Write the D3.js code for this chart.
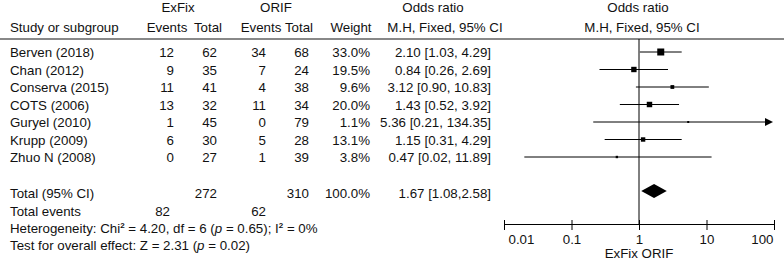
<!DOCTYPE html>
<html>
<head>
<meta charset="utf-8">
<script src="https://cdn.jsdelivr.net/npm/d3@7"></script>
<style>
  body { margin: 0; background: #fff; }
  svg { display: block; font-family: "Liberation Sans", Arial, sans-serif; font-size: 13.3px; }
</style>
</head>
<body>
<div id="chart"></div>
<script>
// study rows
var studies = ["Berven (2018)", "Chan (2012)", "Conserva (2015)", "COTS (2006)", "Guryel (2010)", "Krupp (2009)", "Zhuo N (2008)"];
var exEvents = [12, 9, 11, 13, 1, 6, 0];
var exTotal = [62, 35, 41, 32, 45, 30, 27];
var orEvents = [34, 7, 4, 11, 0, 5, 1];
var orTotal = [68, 24, 38, 34, 79, 28, 39];
var weights = [33.0, 19.5, 9.6, 20.0, 1.1, 13.1, 3.8];
var oddsRatio = [2.10, 0.84, 3.12, 1.43, 5.36, 1.15, 0.47];
var ciLow = [1.03, 0.26, 0.90, 0.52, 0.21, 0.31, 0.02];
var ciHigh = [4.29, 2.69, 10.83, 3.92, 134.35, 4.29, 11.89];

// pooled result
var pooled = {or: 1.67, lo: 1.08, hi: 2.58};
var totals = {exTotal: 272, orTotal: 310, weight: "100.0%", exEvents: 82, orEvents: 62};
var tickValues = [0.01, 0.1, 1, 10, 100];
var tickLabels = ["0.01", "0.1", "1", "10", "100"];

var width = 784, height = 268;

var svg = d3.select("#chart").append("svg")
    .attr("width", width)
    .attr("height", height);

var x = d3.scaleLog().domain([0.01, 100]).range([504, 774]);
var rowY = function(i) { return 57 + i * 17.5; };
var size = d3.scaleSqrt().domain([0, 33]).range([0, 7]);

function txt(xp, yp, s, anchor) {
    return svg.append("text")
        .attr("x", xp)
        .attr("y", yp)
        .attr("text-anchor", anchor || "start")
        .attr("fill", "#111")
        .text(s);
}

// headers
txt(178, 11.5, "ExFix", "middle");
txt(276, 11.5, "ORIF", "middle");
txt(433, 11.5, "Odds ratio", "middle");
txt(638, 11.5, "Odds ratio", "middle");
txt(10, 32, "Study or subgroup");
txt(167, 32, "Events", "middle");
txt(208, 32, "Total", "middle");
txt(261, 32, "Events", "middle");
txt(299, 32, "Total", "middle");
txt(351, 32, "Weight", "middle");
txt(445, 32, "M.H, Fixed, 95% CI", "middle");
txt(642, 32, "M.H, Fixed, 95% CI", "middle");

svg.append("line")
    .attr("x1", 0).attr("x2", width)
    .attr("y1", 39).attr("y2", 39)
    .attr("stroke", "#888")
    .attr("stroke-width", 2);

// table rows
studies.forEach(function(s, i) {
    var y = rowY(i);
    txt(10, y, s);
    txt(174, y, exEvents[i], "end");
    txt(217, y, exTotal[i], "end");
    txt(266, y, orEvents[i], "end");
    txt(309, y, orTotal[i], "end");
    txt(370, y, weights[i].toFixed(1) + "%", "end");
    txt(491, y, oddsRatio[i].toFixed(2) + " [" + ciLow[i].toFixed(2) + ", " + ciHigh[i].toFixed(2) + "]", "end");
});

// totals
txt(10, 198, "Total (95% CI)");
txt(217, 198, totals.exTotal, "end");
txt(309, 198, totals.orTotal, "end");
txt(370, 198, totals.weight, "end");
txt(491, 198, pooled.or.toFixed(2) + " [" + pooled.lo.toFixed(2) + "," + pooled.hi.toFixed(2) + "]", "end");
txt(10, 215.5, "Total events");
txt(170, 215.5, totals.exEvents, "end");
txt(266, 215.5, totals.orEvents, "end");

var het = svg.append("text").attr("x", 10).attr("y", 233).attr("fill", "#111");
het.append("tspan").text("Heterogeneity: Chi");
het.append("tspan").attr("dy", -5).attr("font-size", 8).attr("font-weight", "bold").text("2");
het.append("tspan").attr("dy", 5).text(" = 4.20, df = 6 (");
het.append("tspan").attr("font-style", "italic").text("p");
het.append("tspan").text(" = 0.65); I");
het.append("tspan").attr("dy", -5).attr("font-size", 8).attr("font-weight", "bold").text("2");
het.append("tspan").attr("dy", 5).text(" = 0%");

var test = svg.append("text").attr("x", 10).attr("y", 250).attr("fill", "#111");
test.append("tspan").text("Test for overall effect: Z = 2.31 (");
test.append("tspan").attr("font-style", "italic").text("p");
test.append("tspan").text(" = 0.02)");

// forest plot
var axisY = 224;

svg.append("line")
    .attr("x1", x(1)).attr("x2", x(1))
    .attr("y1", 39).attr("y2", axisY)
    .attr("stroke", "#000");

studies.forEach(function(s, i) {
    var y = rowY(i) - 5;
    var hi = Math.min(ciHigh[i], 100);
    svg.append("line")
        .attr("x1", x(ciLow[i])).attr("x2", x(hi) - (ciHigh[i] > 100 ? 6 : 0))
        .attr("y1", y).attr("y2", y)
        .attr("stroke", "#000");
    if (ciHigh[i] > 100) {
        var tip = x(100) - 1;
        svg.append("path")
            .attr("d", "M" + tip + "," + y + "L" + (tip - 8) + "," + (y - 4) + "L" + (tip - 8) + "," + (y + 4) + "Z")
            .attr("fill", "#000");
    }
    var sz = Math.max(size(weights[i]), 2);
    svg.append("rect")
        .attr("x", x(oddsRatio[i]) - sz / 2)
        .attr("y", y - sz / 2)
        .attr("width", sz)
        .attr("height", sz)
        .attr("fill", "#000");
});

// pooled diamond
var dy = 191;
svg.append("path")
    .attr("d", "M" + x(pooled.lo) + "," + dy +
        "L" + x(pooled.or) + "," + (dy - 7) +
        "L" + x(pooled.hi) + "," + dy +
        "L" + x(pooled.or) + "," + (dy + 7) + "Z")
    .attr("fill", "#000");

// axis
var axis = svg.append("g")
    .attr("transform", "translate(0," + axisY + ")")
    .call(d3.axisBottom(x)
        .tickValues(tickValues)
        .tickFormat(function(d, i) { return tickLabels[i]; })
        .tickSizeOuter(0));

axis.select(".domain").attr("stroke", "#000");
axis.selectAll(".tick line").attr("y1", -4).attr("y2", 6).attr("stroke", "#000");
axis.selectAll(".tick text")
    .attr("y", 20)
    .attr("dy", 0)
    .attr("fill", "#111")
    .style("font-size", "13.3px")
    .style("font-family", "'Liberation Sans', Arial, sans-serif");

// first and last labels pulled inside, like the original
var n = tickValues.length;
axis.selectAll(".tick text")
    .attr("text-anchor", function(d, i) { return i === 0 ? "start" : (i === n - 1 ? "end" : "middle"); })
    .attr("x", function(d, i) { return i === 0 ? 4 : (i === n - 1 ? -1 : 0); });

txt(x(1), 258, "ExFix ORIF", "middle");
</script>
</body>
</html>
